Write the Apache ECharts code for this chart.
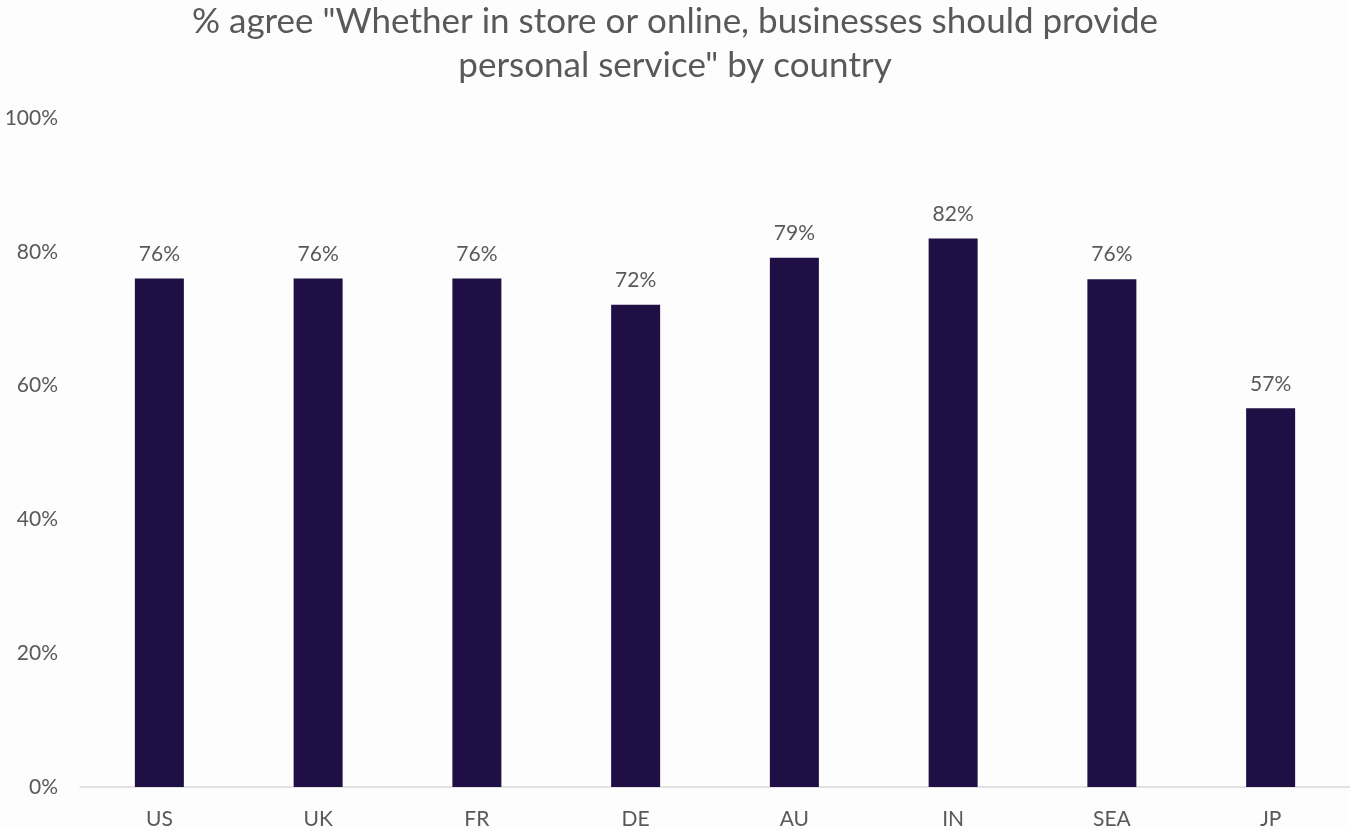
<!DOCTYPE html>
<html>
<head>
<meta charset="utf-8">
<script src="https://cdn.jsdelivr.net/npm/echarts@6/dist/echarts.min.js"></script>
<style>
  html, body { margin: 0; padding: 0; background: #fdfdfd; }
  #chart { width: 1350px; height: 830px; }
</style>
</head>
<body>
<div id="chart"></div>
<script>
const countries = ['US', 'UK', 'FR', 'DE', 'AU', 'IN', 'SEA', 'JP'];
const agreeShare = [76, 76, 76, 72.1, 79.1, 82, 75.9, 56.6];
const yTicks = [0, 20, 40, 60, 80, 100];

const chart = echarts.init(document.getElementById('chart'));
const textColor = '#595959';
const fontFamily = 'Lato, "Open Sans", sans-serif';

chart.setOption({
  backgroundColor: '#fdfdfd',
  animation: false,
  title: {
    text: '% agree "Whether in store or online, businesses should provide\npersonal service" by country',
    left: 'center',
    top: -5,
    textStyle: {
      color: textColor,
      fontFamily: fontFamily,
      fontWeight: 'normal',
      fontSize: 35,
      lineHeight: 44
    }
  },
  grid: { left: 80, right: 0, top: 118, bottom: 42, containLabel: false },
  xAxis: {
    type: 'category',
    data: countries,
    axisLine: { lineStyle: { color: '#d9d9d9', width: 1.5 } },
    axisTick: { show: false },
    axisLabel: { color: textColor, fontFamily: fontFamily, fontSize: 21, margin: 22 }
  },
  yAxis: {
    type: 'value',
    min: yTicks[0],
    max: yTicks[yTicks.length - 1],
    interval: yTicks[1] - yTicks[0],
    splitLine: { show: false },
    axisLine: { show: false },
    axisTick: { show: false },
    axisLabel: {
      color: textColor,
      fontFamily: fontFamily,
      fontSize: 21,
      margin: 22,
      formatter: v => v + '%'
    }
  },
  series: [{
    type: 'bar',
    data: agreeShare,
    barWidth: 49,
    itemStyle: { color: '#1f0f45' },
    label: {
      show: true,
      position: 'top',
      distance: 14,
      color: textColor,
      fontFamily: fontFamily,
      fontSize: 21,
      formatter: p => Math.round(p.value) + '%'
    }
  }]
});
</script>
</body>
</html>
